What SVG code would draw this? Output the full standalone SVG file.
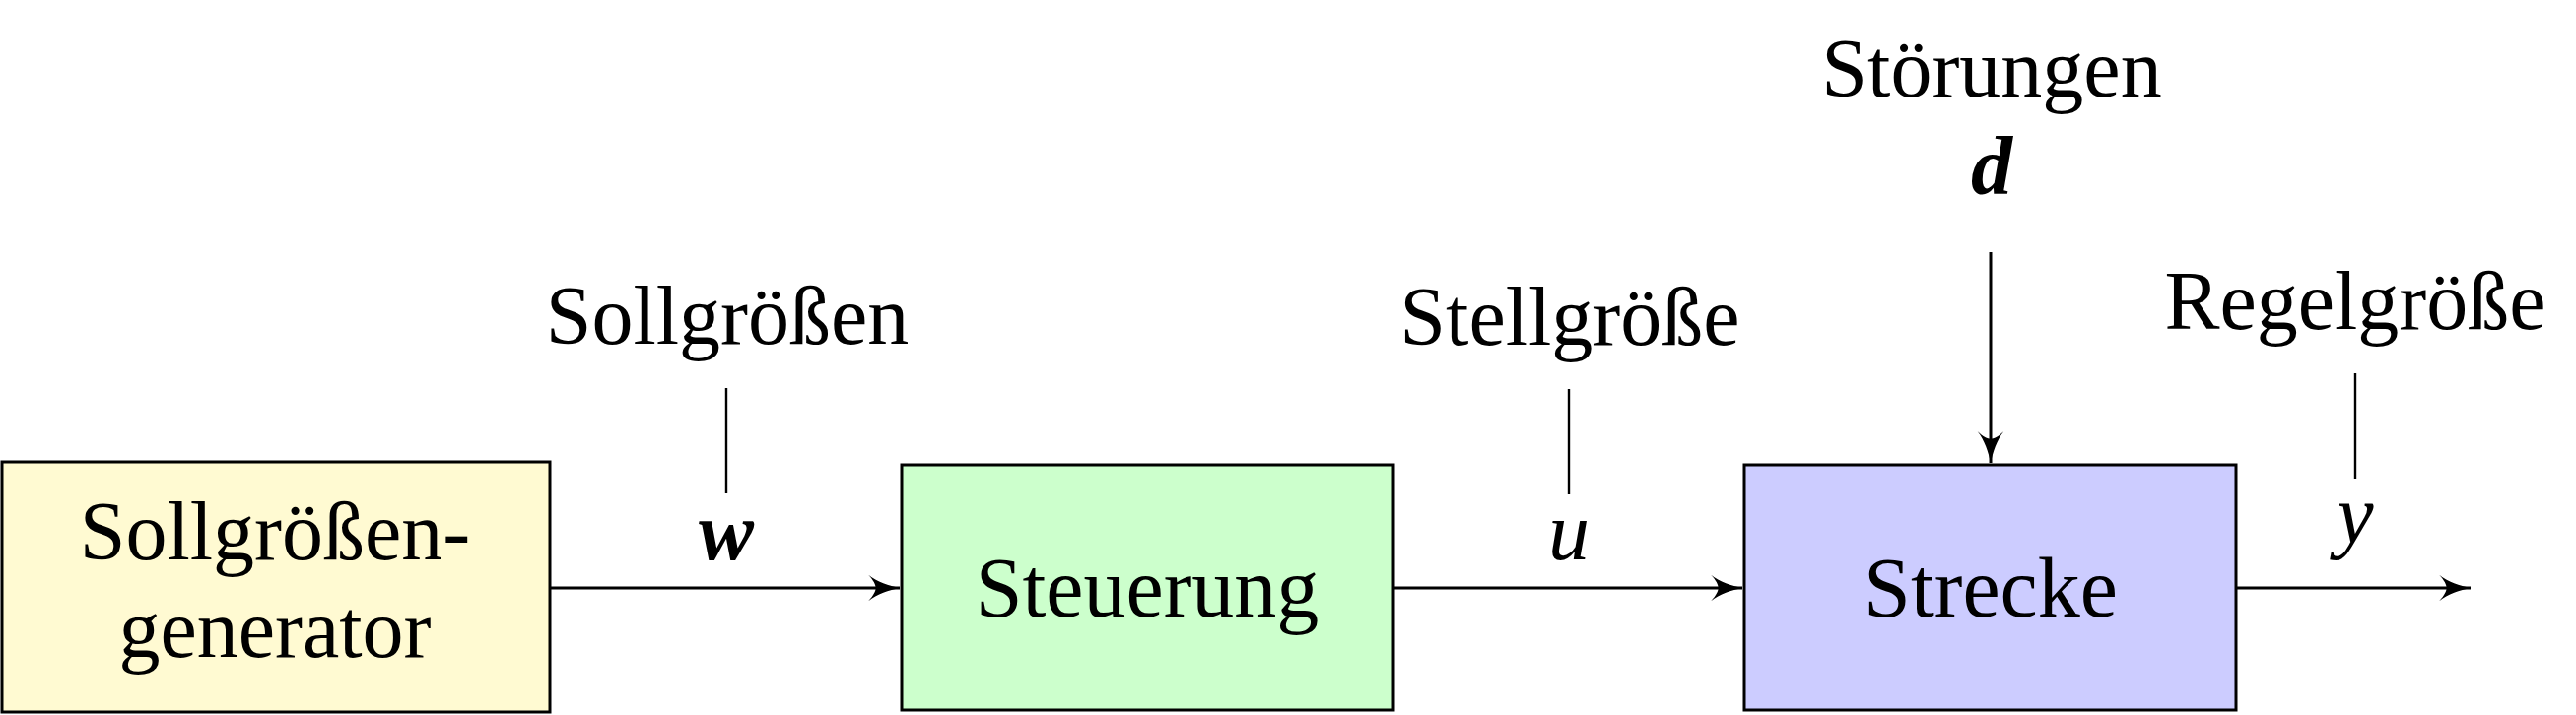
<svg xmlns="http://www.w3.org/2000/svg" width="2614" height="726" viewBox="0 0 2614 726">
<style>
text{font-family:"Liberation Serif","Times New Roman",serif;font-size:84px;fill:#000}
.n{font-size:86px}
.m{font-style:italic}
.b{font-weight:bold}
.box{stroke:#000;stroke-width:3}
.c{fill:none;stroke:#000;stroke-width:3}
.t{fill:none;stroke:#000;stroke-width:2.4}
</style>
<defs>
<marker id="ah" markerUnits="userSpaceOnUse" markerWidth="36" markerHeight="28" refX="32" refY="13" orient="auto" viewBox="0 0 34 26">
<path d="M32,13 C22,15 10,19 2,25.5 C7,20 9,16 9,13 C9,10 7,6 2,0.5 C10,7 22,11 32,13 Z" fill="#000"/>
</marker>
</defs>
<rect width="2614" height="726" fill="#fff"/>
<g id="generator">
<rect class="box" x="2" y="469" width="556" height="254" fill="#FFFAD2"/>
<text x="279" y="568" text-anchor="middle">Sollgrößen-</text>
<text x="279" y="667" text-anchor="middle">generator</text>
</g>
<g id="steuerung">
<rect class="box" x="915" y="472" width="499" height="249" fill="#CCFFCC"/>
<text x="1164" y="626" text-anchor="middle" class="n">Steuerung</text>
</g>
<g id="strecke">
<rect class="box" x="1770" y="472" width="499" height="249" fill="#CCCCFF"/>
<text x="2020" y="626" text-anchor="middle" class="n">Strecke</text>
</g>
<g id="connectors">
<line class="c" x1="559" y1="597" x2="913" y2="597" marker-end="url(#ah)"/>
<line class="c" x1="1414" y1="597" x2="1768" y2="597" marker-end="url(#ah)"/>
<line class="c" x1="2269" y1="597" x2="2507" y2="597" marker-end="url(#ah)"/>
<line class="c" x1="2020" y1="256" x2="2020" y2="470" marker-end="url(#ah)"/>
<line class="t" x1="737" y1="394" x2="737" y2="501"/>
<line class="t" x1="1592" y1="395" x2="1592" y2="502"/>
<line class="t" x1="2390" y1="379" x2="2390" y2="486"/>
</g>
<g id="labels">
<text x="738" y="349" text-anchor="middle">Sollgrößen</text>
<text x="737" y="568" text-anchor="middle" class="m b">w</text>
<text x="1593" y="350" text-anchor="middle">Stellgröße</text>
<text x="1592" y="568" text-anchor="middle" class="m">u</text>
<text x="2021" y="98" text-anchor="middle">Störungen</text>
<text x="2021" y="197" text-anchor="middle" class="m b">d</text>
<text x="2390" y="334" text-anchor="middle">Regelgröße</text>
<text x="2390" y="551" text-anchor="middle" class="m">y</text>
</g>
</svg>
